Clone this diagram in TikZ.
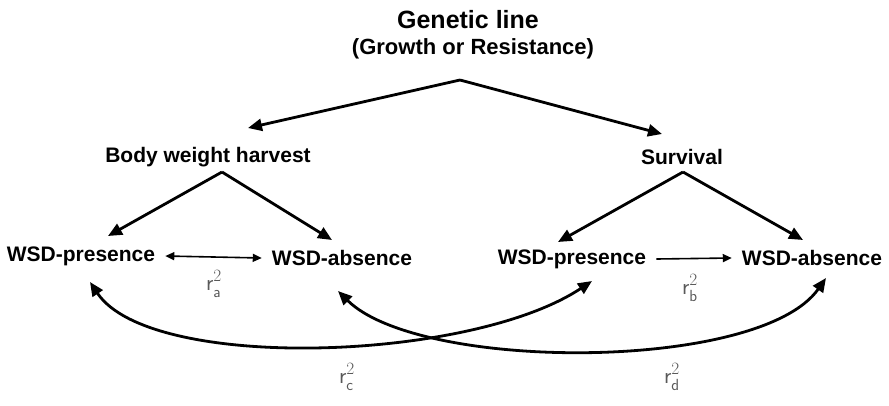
\documentclass[tikz,border=0pt]{standalone}
\usepackage{fontspec}
\setmainfont{Liberation Sans}
\usetikzlibrary{arrows.meta}
\begin{document}
\begin{tikzpicture}[x=1pt,y=-1pt,
  lbl/.style={font=\fontsize{21}{24}\selectfont\bfseries, inner sep=0pt},
  rlab/.style={font=\fontsize{23}{26}\selectfont, text=black!65, inner sep=0pt},
  big/.style={line width=2.8pt, -{Triangle[length=14pt,width=12pt]}},
  thin/.style={line width=1.6pt},
  curv/.style={line width=2.8pt, {Triangle[length=14pt,width=12pt]}-{Triangle[length=14pt,width=12pt]}}
]
\useasboundingbox (0,0) rectangle (889,405);
\node[lbl, font=\fontsize{25}{28}\selectfont\bfseries] (gl) at (468,20) {Genetic line};
\node[lbl, font=\fontsize{22}{26}\selectfont\bfseries] (gr) at (473,49) {(Growth or Resistance)};
\coordinate (top) at (460,80);
\node[lbl] (bw) at (208,157) {Body weight harvest};
\node[lbl] (sv) at (682,157) {Survival};
\coordinate (bwa) at (222,172);
\coordinate (sva) at (683,172);
\node[lbl] (p1) at (81,256) {WSD-presence};
\node[lbl] (a1) at (342,258) {WSD-absence};
\node[lbl] (p2) at (572,259) {WSD-presence};
\node[lbl] (a2) at (812,258) {WSD-absence};
\coordinate (t1) at (248,128);
\coordinate (t2) at (662,134);
\draw[big] (top) -- (t1);
\draw[big] (top) -- (t2);
\coordinate (t3) at (108,236);
\coordinate (t4) at (332,240);
\coordinate (t5) at (558,242);
\coordinate (t6) at (803,240);
\draw[big] (bwa) -- (t3);
\draw[big] (bwa) -- (t4);
\draw[big] (sva) -- (t5);
\draw[big] (sva) -- (t6);
\draw[thin, {Triangle[length=9pt,width=8pt]}-{Triangle[length=9pt,width=8pt]}] ([xshift=10pt]p1.east) -- ([xshift=-10pt]a1.west);
\draw[thin, -{Triangle[length=9pt,width=8pt]}] ([xshift=10pt]p2.east) -- ([xshift=-10pt]a2.west);
\node[rlab] (ra) at (214,284) {$\mathsf{r}^{2}_{\mathsf{a}}$};
\node[rlab] (rb) at (690,288) {$\mathsf{r}^{2}_{\mathsf{b}}$};
\coordinate (c1s) at (90,282);
\coordinate (c1e) at (592,281);
\coordinate (c2s) at (338,291);
\coordinate (c2e) at (826,278);
\draw[curv] (c1s) .. controls (150,372) and (470,362) .. (c1e);
\draw[curv] (c2s) .. controls (420,372) and (760,372) .. (c2e);
\node[rlab] (rc) at (347,377) {$\mathsf{r}^{2}_{\mathsf{c}}$};
\node[rlab] (rd) at (672,377) {$\mathsf{r}^{2}_{\mathsf{d}}$};
\end{tikzpicture}
\end{document}
